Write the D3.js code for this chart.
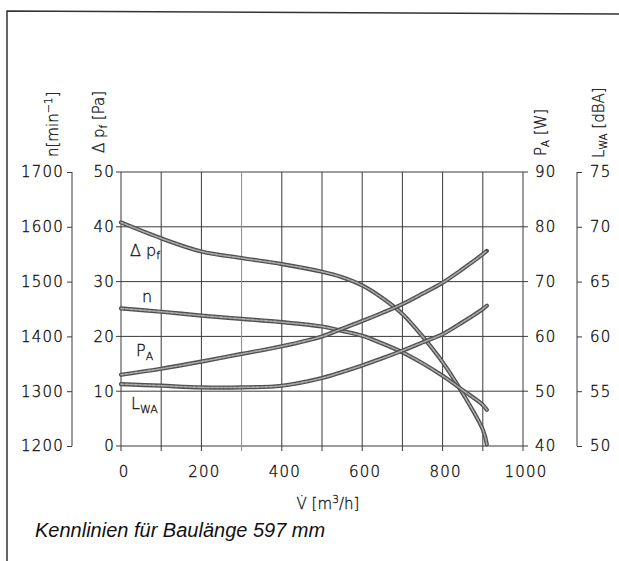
<!DOCTYPE html>
<html>
<head>
<meta charset="utf-8">
<script src="https://cdn.jsdelivr.net/npm/d3@7"></script>
<style>
  html, body { margin: 0; padding: 0; background: #fff; }
  svg { display: block; }
  .tick-label { font-family: "DejaVu Sans", sans-serif; font-weight: 200; font-size: 15px; fill: #111; stroke: #111; stroke-width: 0.35px; letter-spacing: 1.2px; }
  .axis-title { font-family: "DejaVu Sans", sans-serif; font-weight: 200; font-size: 15px; fill: #111; stroke: #111; stroke-width: 0.3px; }
  .curve-label { font-family: "DejaVu Sans", sans-serif; font-weight: 200; font-size: 16px; fill: #111; stroke: #111; stroke-width: 0.3px; }
  .caption { font-family: "Liberation Sans", Arial, sans-serif; font-style: italic; font-size: 20px; fill: #111; }
</style>
</head>
<body>
<script>
// Volume flow V̇ [m³/h] at which the characteristic curves are sampled
const flow = [0, 100, 200, 300, 400, 500, 550, 600, 650, 700, 750, 800, 850, 900, 910];
// Static pressure difference Δp_f [Pa]
const pressure = [40.8, 37.9, 35.5, 34.3, 33.2, 31.8, 30.8, 29.3, 27.0, 24.1, 20.0, 15.3, 9.6, 3.0, 0.3];
// Fan speed n [min⁻¹]
const speed = [1451, 1445, 1438, 1432, 1426, 1418, 1410, 1401, 1387, 1371, 1351, 1328, 1302, 1275, 1266];
// Power input P_A [W]
const power = [53.0, 54.1, 55.4, 56.8, 58.2, 60.0, 61.4, 62.8, 64.3, 65.9, 67.8, 69.8, 72.3, 75.0, 75.6];
// Sound power level L_WA [dBA]
const sound = [55.65, 55.5, 55.35, 55.35, 55.5, 56.2, 56.75, 57.35, 58.0, 58.7, 59.45, 60.2, 61.3, 62.5, 62.8];

// Tick values of the five scales
const flowTicks = [0, 200, 400, 600, 800, 1000];
const flowGrid = [100, 200, 300, 400, 500, 600, 700, 800, 900];
const pressureTicks = [0, 10, 20, 30, 40, 50];
const speedTicks = [1200, 1300, 1400, 1500, 1600, 1700];
const powerTicks = [40, 50, 60, 70, 80, 90];
const soundTicks = [50, 55, 60, 65, 70, 75];

const W = 619, H = 561;
const svg = d3.select("body").append("svg").attr("width", W).attr("height", H);

const x = d3.scaleLinear().domain([0, 1000]).range([121, 523]);
const yP = d3.scaleLinear().domain([0, 50]).range([446, 172]);
const yN = d3.scaleLinear().domain([1200, 1700]).range([446, 172]);
const yA = d3.scaleLinear().domain([40, 90]).range([446, 172]);
const yL = d3.scaleLinear().domain([50, 75]).range([446, 172]);

// page frame (left and top edge)
svg.append("path")
  .attr("d", `M7,561 L7,11 L619,14`)
  .attr("fill", "none").attr("stroke", "#333").attr("stroke-width", 1.5);

const grid = svg.append("g").attr("stroke", "#3a3a3a").attr("stroke-width", 1).attr("fill", "none");

// horizontal grid lines (crossing both plot axes slightly)
grid.selectAll("line.h").data(pressureTicks).join("line")
  .attr("x1", x(0) - 5).attr("x2", x(1000) + 5)
  .attr("y1", d => yP(d)).attr("y2", d => yP(d));

// vertical grid lines
grid.selectAll("line.v").data(flowGrid).join("line")
  .attr("x1", d => x(d)).attr("x2", d => x(d))
  .attr("y1", yP(50)).attr("y2", yP(0) + 5)
  .attr("stroke", d => d === 300 ? "#8a8a8a" : null);

// plot frame: left and right axes
grid.append("line").attr("x1", x(0)).attr("x2", x(0)).attr("y1", yP(50)).attr("y2", yP(0) + 5);
grid.append("line").attr("x1", x(1000)).attr("x2", x(1000)).attr("y1", yP(50)).attr("y2", yP(0) + 5);

// speed axis (far left) with ticks pointing left
const nAxis = svg.append("g").attr("transform", "translate(72,0)")
  .call(d3.axisLeft(yN).tickValues(speedTicks).tickSize(5).tickPadding(3).tickFormat(d3.format("d")));
// sound axis (far right) with ticks pointing right
const lAxis = svg.append("g").attr("transform", "translate(577,0)")
  .call(d3.axisRight(yL).tickValues(soundTicks).tickSize(5).tickPadding(8).tickFormat(d3.format("d")));
[[nAxis, yN, 1700, 1200], [lAxis, yL, 75, 50]].forEach(([g, s, top, bottom]) => {
  g.select(".domain").attr("stroke", "#3a3a3a").attr("d", `M0,${s(top)}V${s(bottom)}`);
  g.selectAll(".tick line").attr("stroke", "#3a3a3a");
  g.selectAll(".tick text").attr("class", "tick-label").attr("fill", null);
  g.attr("font-family", null).attr("font-size", null);
});

// pressure labels left of plot
svg.append("g").selectAll("text").data(pressureTicks).join("text")
  .attr("class", "tick-label").attr("text-anchor", "end")
  .attr("x", 115).attr("y", d => yP(d)).attr("dy", "0.36em").text(d => d);

// power labels right of plot
svg.append("g").selectAll("text").data(powerTicks).join("text")
  .attr("class", "tick-label").attr("text-anchor", "start")
  .attr("x", 535).attr("y", d => yA(d)).attr("dy", "0.36em").text(d => d);

// flow labels under the plot
svg.append("g").selectAll("text").data(flowTicks).join("text")
  .attr("class", "tick-label").attr("text-anchor", "middle")
  .attr("x", d => x(d) + 3).attr("y", 477).text(d => d);

// rotated axis titles
function vTitle(xp, yp, build) {
  const t = svg.append("text").attr("class", "axis-title")
    .attr("transform", `translate(${xp},${yp}) rotate(-90)`);
  build(t);
}
vTitle(58, 157, t => {
  t.append("tspan").text("n[min");
  t.append("tspan").attr("dy", -6).attr("font-size", 11).text("−1");
  t.append("tspan").attr("dy", 6).text("]");
});
vTitle(104, 153, t => {
  t.append("tspan").text("Δ p");
  t.append("tspan").attr("dy", 3).attr("font-size", 10).text("f");
  t.append("tspan").attr("dy", -3).text(" [Pa]");
});
vTitle(546, 156, t => {
  t.append("tspan").text("P");
  t.append("tspan").attr("dy", 3).attr("font-size", 10).text("A");
  t.append("tspan").attr("dy", -3).text(" [W]");
});
vTitle(604, 158, t => {
  t.append("tspan").text("L");
  t.append("tspan").attr("dy", 3).attr("font-size", 10).text("WA");
  t.append("tspan").attr("dy", -3).text(" [dBA]");
});

// flow axis title with dotted V
const xt = svg.append("text").attr("class", "axis-title")
  .attr("x", 328).attr("y", 509).attr("text-anchor", "middle");
xt.append("tspan").text("V\u0307  [m");
xt.append("tspan").attr("dy", -6).attr("font-size", 11).text("3");
xt.append("tspan").attr("dy", 6).text("/h]");

// characteristic curves
const series = [
  { values: pressure, y: yP },
  { values: speed, y: yN },
  { values: power, y: yA },
  { values: sound, y: yL }
];
const curves = svg.append("g").attr("fill", "none").attr("stroke-linecap", "round");
series.forEach(s => {
  const line = d3.line().curve(d3.curveCatmullRom.alpha(0.5))
    .x((d, i) => x(flow[i])).y(d => s.y(d));
  curves.append("path").attr("d", line(s.values))
    .attr("stroke", "#505050").attr("stroke-width", 4.2);
  curves.append("path").attr("d", line(s.values))
    .attr("stroke", "#ababab").attr("stroke-width", 1.6).attr("stroke-dasharray", "3,1.5");
});

// curve labels
const lab = svg.append("g");
const dp = lab.append("text").attr("class", "curve-label").attr("x", 130).attr("y", 256);
dp.append("tspan").text("Δ p");
dp.append("tspan").attr("dy", 3).attr("font-size", 11).text("f");
lab.append("text").attr("class", "curve-label").attr("x", 142).attr("y", 302).text("n");
const pa = lab.append("text").attr("class", "curve-label").attr("x", 136).attr("y", 356);
pa.append("tspan").text("P");
pa.append("tspan").attr("dy", 4).attr("font-size", 11).text("A");
const lw = lab.append("text").attr("class", "curve-label").attr("x", 131).attr("y", 409);
lw.append("tspan").text("L");
lw.append("tspan").attr("dy", 4).attr("font-size", 11).text("WA");

// caption
svg.append("text").attr("class", "caption").attr("x", 35).attr("y", 537)
  .text("Kennlinien für Baulänge 597 mm");
</script>
</body>
</html>
